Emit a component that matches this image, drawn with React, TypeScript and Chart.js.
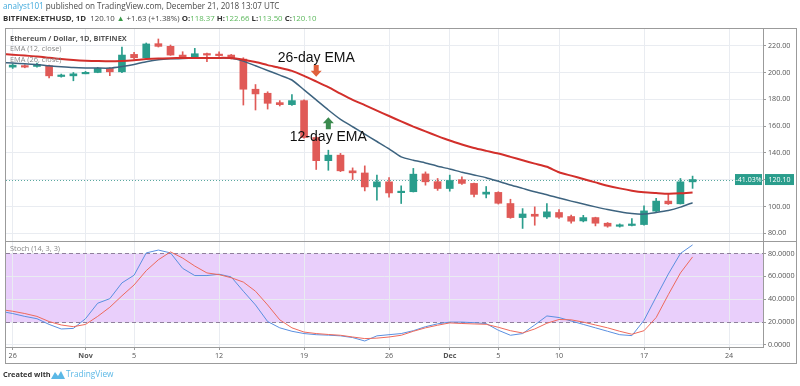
import React, { useEffect, useRef } from "react";
import { Chart, registerables } from "chart.js";
Chart.register(...registerables);

// ---- Candles: one per day, day 0 = Oct 26 2018 ... day 56 = Dec 21 2018
const OPEN = [204, 205, 204.5, 205, 197, 197.5, 199, 200, 203, 200.5, 213.5, 211, 221.5, 219.5, 213, 211, 213.8, 213.6, 213, 210, 187.5, 184.5, 177.5, 176, 179, 151.5, 134.2, 138.3, 126.6, 125, 114.6, 118.4, 110.3, 111, 124.3, 118.5, 113.4, 120, 117.2, 109.2, 110.5, 102.2, 91.7, 94.2, 92.2, 95.5, 92.5, 89.2, 91.7, 87.5, 85.2, 85.8, 86.5, 96.5, 104, 102, 118.37];
const HIGH = [206.5, 205.8, 207, 205.5, 198.8, 200, 200.8, 203.8, 203.5, 219, 215, 222, 225, 220.5, 215.5, 218, 214.5, 215.5, 213.5, 211, 191, 185.6, 179, 183.5, 179.5, 152.5, 142, 139.6, 128.8, 130.3, 123.4, 121.6, 115.4, 128.4, 125.8, 120.9, 123.4, 122.1, 117.5, 114.9, 111, 105.4, 98.4, 99.7, 102.2, 97.7, 93.5, 93.4, 92, 88, 87, 91, 100.4, 106, 109.2, 120.9, 122.66];
const LOW = [203, 203.5, 204, 196, 196.5, 193.8, 199, 199.8, 197.6, 199.8, 210, 210.8, 219, 212.8, 210.5, 210.8, 208, 212, 210, 175.7, 172, 172.7, 175, 175.5, 151, 127.6, 127, 126, 120.1, 111.6, 104.7, 107, 102.2, 110.8, 115.9, 112, 111.4, 116.5, 107.1, 106.4, 101.8, 91.2, 83.6, 86, 91, 91, 87.5, 88.5, 85.5, 84.5, 84.6, 85.5, 86, 96, 101.5, 101.8, 113.5];
const CLOSE = [205.5, 204, 206, 197.5, 198, 199, 200, 203, 200.5, 213, 211, 221.3, 219.5, 213, 211, 214, 213, 212.6, 210.6, 187.5, 184, 177, 176, 179, 151.5, 134.2, 138.3, 126.6, 125.1, 114.6, 118.4, 110.1, 111.4, 124.1, 118.4, 113.4, 119.4, 117.2, 109, 110.7, 102.4, 91.7, 94.4, 92.7, 96, 92, 89, 91.7, 87.5, 85.3, 85.8, 86.5, 96.7, 104, 102, 118.4, 120.1];

// ---- Indicator lines start one day earlier (day -1)
const LINE_FIRST_DAY = -1;
const EMA26 = [213.8, 213.3, 212.6, 212, 211, 210, 209.3, 208.8, 208.5, 208.3, 208.6, 209.2, 210, 210.5, 210.7, 210.8, 210.8, 210.8, 210.9, 210.8, 209.5, 207.8, 205.5, 203.5, 201.2, 197.5, 193.3, 189, 184.2, 179.6, 175.6, 171.5, 167.5, 163.5, 159.6, 156, 152.5, 149.2, 146.3, 143.6, 141.5, 139.5, 137, 134.5, 132, 129.6, 125.5, 123, 120.5, 118, 115.5, 113.5, 111.8, 110.6, 110, 109.5, 109.8, 110.5];
const EMA12 = [207.5, 207, 206.5, 206, 205, 204.3, 203.7, 203.4, 203.3, 203.3, 204.5, 206, 208, 209.5, 210.2, 210.5, 210.7, 210.8, 210.8, 210.6, 208.5, 205, 201.5, 198, 194.4, 187, 179.5, 172, 165, 159.5, 154, 148.5, 143, 137, 134.5, 132.5, 130, 128, 125.5, 123.5, 121.5, 118.8, 116, 113.5, 111, 108.8, 106.3, 104, 101.8, 99.7, 97.7, 96, 94.7, 94.3, 95.5, 97, 99.5, 102.8];
const STOCH_K = [29.5, 27.5, 25, 23, 18, 14, 14.5, 23, 36.5, 40.5, 54.3, 61, 80.5, 83, 80.5, 67, 60.7, 60.7, 61.9, 59.5, 47, 35, 20.5, 15, 12, 10, 9, 8.6, 8, 6.5, 3.5, 8, 9, 10, 12.5, 16, 18.5, 20, 20, 19.5, 18.7, 12.9, 8.5, 10, 17.5, 25.4, 24, 21, 18, 15, 12, 9, 8.2, 21.6, 42, 62, 80, 87.5];
const STOCH_D = [31, 29.5, 27.5, 25, 20.5, 17.5, 16, 18, 25, 33, 43, 52.5, 65, 74.5, 81.4, 76, 69, 63, 61.5, 58.8, 55, 47, 35, 22, 15, 11.3, 10, 9.2, 8.5, 7, 5.6, 6, 7, 8.5, 12, 15, 17.3, 19.3, 18.8, 18.4, 18.1, 15.5, 12.5, 10.5, 14, 19, 22.3, 22, 20, 17.5, 15, 12, 9.4, 12.5, 24, 44, 63, 77];

// ---- Axis ticks
const X_TICK_DAYS = [0, 6, 10, 17, 24, 31, 36, 40, 45, 52, 59];
const X_TICK_LABELS = ["26", "Nov", "5", "12", "19", "26", "Dec", "5", "10", "17", "24"];
const X_MONTH_LABELS = ["Nov", "Dec"];
const PRICE_TICKS = [80, 100, 120, 140, 160, 180, 200, 220];
const STOCH_TICKS = [0, 20, 40, 60, 80];
const STOCH_BAND = [20, 80];
const LAST_CLOSE = 120.1;
const LAST_CHANGE_PCT = "-41.03%";

// ---- Annotations (day index, price)
const ANNOT_TEXTS = [
  { text: "26-day EMA", day: 25, price: 210.8 },
  { text: "12-day EMA", day: 26, price: 151.8 },
];
const ANNOT_ARROWS = [
  { day: 25, from: 205.6, to: 196.8, color: "#e0603c" },
  { day: 26, from: 157.7, to: 166.5, color: "#3a8a4e" },
];

const UP = "#2a9d8c";
const DOWN = "#e05a57";
const GRID = "#e9ecf1";
const FRAME = "#9b9b9b";
const FONT = "'Open Sans', sans-serif";

type Run = [string, string, boolean?];

function drawRuns(ctx: CanvasRenderingContext2D, x: number, y: number, runs: Run[], size: number) {
  let cx = x;
  ctx.textBaseline = "middle";
  ctx.textAlign = "left";
  for (const [t, c, b] of runs) {
    ctx.font = `${b ? "bold " : ""}${size}px ${FONT}`;
    ctx.fillStyle = c;
    ctx.fillText(t, cx, y);
    cx += ctx.measureText(t).width;
  }
}

const overlay = {
  id: "overlay",
  beforeDraw(chart: any) {
    const { ctx, chartArea: a, scales } = chart;
    const y2 = scales.y2;
    const t = y2.getPixelForValue(STOCH_BAND[1]);
    const b = y2.getPixelForValue(STOCH_BAND[0]);
    ctx.save();
    ctx.fillStyle = "#e9cffb";
    ctx.fillRect(a.left, t, a.right - a.left, b - t);
    ctx.restore();
  },
  beforeDatasetsDraw(chart: any) {
    const { ctx, chartArea: a, scales } = chart;
    ctx.save();
    ctx.strokeStyle = "#8f7f9c";
    ctx.lineWidth = 1;
    ctx.setLineDash([4, 3]);
    for (const v of STOCH_BAND) {
      const y = Math.round(scales.y2.getPixelForValue(v)) + 0.5;
      ctx.beginPath();
      ctx.moveTo(a.left, y);
      ctx.lineTo(a.right, y);
      ctx.stroke();
    }
    ctx.strokeStyle = "#5aa9a0";
    ctx.setLineDash([1, 2]);
    const py = Math.round(scales.y.getPixelForValue(LAST_CLOSE)) + 0.5;
    ctx.beginPath();
    ctx.moveTo(a.left, py);
    ctx.lineTo(a.right, py);
    ctx.stroke();
    ctx.restore();
  },
  afterDraw(chart: any) {
    const { ctx, chartArea: a, scales } = chart;
    const xs = scales.x;
    const ys = scales.y;
    ctx.save();
    // frame
    ctx.strokeStyle = FRAME;
    ctx.lineWidth = 1;
    ctx.strokeRect(5.5, 28.5, 791, 335);
    const sep = Math.round(scales.y2.top) + 0.5;
    ctx.beginPath();
    ctx.moveTo(5, sep);
    ctx.lineTo(797, sep);
    ctx.stroke();

    // header
    drawRuns(ctx, 3, 7, [["analyst101", "#3fa9dc"], [" published on TradingView.com, December 21, 2018 13:07 UTC", "#4a4a4a"]], 8.1);
    drawRuns(ctx, 3, 18.5, [
      ["BITFINEX:ETHUSD, 1D", "#333", true],
      ["  120.10 ", "#444"],
      ["▲", "#3a9a48"],
      [" +1.63 (+1.38%) ", "#444"],
      ["O:", "#333", true], ["118.37", "#5cb85c"],
      [" H:", "#333", true], ["122.66", "#5cb85c"],
      [" L:", "#333", true], ["113.50", "#5cb85c"],
      [" C:", "#333", true], ["120.10", "#5cb85c"],
    ], 7.85);

    // pane legends
    drawRuns(ctx, 10, 38.5, [["Ethereum / Dollar, 1D, BITFINEX", "#555", true]], 7.4);
    drawRuns(ctx, 10, 49, [["EMA (12, close)", "#888"]], 7.4);
    drawRuns(ctx, 10, 59.5, [["EMA (26, close)", "#888"]], 7.4);
    drawRuns(ctx, 10, 248.5, [["Stoch (14, 3, 3)", "#888"]], 7.4);

    // annotations
    ctx.font = `14px 'Liberation Sans', Arial, sans-serif`;
    ctx.fillStyle = "#111";
    ctx.textAlign = "center";
    ctx.textBaseline = "middle";
    for (const t of ANNOT_TEXTS) {
      ctx.fillText(t.text, xs.getPixelForValue(t.day), ys.getPixelForValue(t.price));
    }
    for (const ar of ANNOT_ARROWS) {
      const x = xs.getPixelForValue(ar.day);
      const y0 = ys.getPixelForValue(ar.from);
      const y1 = ys.getPixelForValue(ar.to);
      const dir = y1 > y0 ? 1 : -1;
      const head = 6;
      ctx.fillStyle = ar.color;
      ctx.beginPath();
      ctx.moveTo(x - 2.5, y0);
      ctx.lineTo(x + 2.5, y0);
      ctx.lineTo(x + 2.5, y1 - dir * head);
      ctx.lineTo(x + 5.5, y1 - dir * head);
      ctx.lineTo(x, y1);
      ctx.lineTo(x - 5.5, y1 - dir * head);
      ctx.lineTo(x - 2.5, y1 - dir * head);
      ctx.closePath();
      ctx.fill();
    }

    // last price labels
    const py = ys.getPixelForValue(LAST_CLOSE);
    ctx.fillStyle = UP;
    ctx.fillRect(a.right - 28, py - 5.5, 27, 11);
    ctx.fillRect(a.right + 2, py - 5.5, 29, 11);
    ctx.fillStyle = "#fff";
    ctx.font = `7px ${FONT}`;
    ctx.textAlign = "center";
    ctx.fillText(LAST_CHANGE_PCT, a.right - 14.5, py + 0.5);
    ctx.fillText(LAST_CLOSE.toFixed(2), a.right + 16.5, py + 0.5);

    // footer
    drawRuns(ctx, 3, 375, [["Created with", "#333", true]], 7.4);
    ctx.fillStyle = "#5bb8e6";
    ctx.beginPath();
    ctx.moveTo(51, 379);
    ctx.lineTo(55, 372);
    ctx.lineTo(58, 376);
    ctx.lineTo(61, 371);
    ctx.lineTo(65, 379);
    ctx.closePath();
    ctx.fill();
    drawRuns(ctx, 66, 375, [["TradingView", "#5bb8e6"]], 8.3);
    ctx.restore();
  },
};

export default function App() {
  const ref = useRef<HTMLCanvasElement | null>(null);
  useEffect(() => {
    if (!ref.current) return;
    const colors = OPEN.map((o, i) => (CLOSE[i] >= o ? UP : DOWN));
    const line = (arr: number[]) => arr.map((v, i) => ({ x: LINE_FIRST_DAY + i, y: v }));
    const tickFont = { family: FONT, size: 7.2 };
    const chart = new Chart(ref.current, {
      type: "bar",
      data: {
        datasets: [
          { type: "line", label: "EMA 26", data: line(EMA26), yAxisID: "y", borderColor: "#d22f2b", borderWidth: 2, pointRadius: 0, tension: 0.2, order: 0 } as any,
          { type: "line", label: "EMA 12", data: line(EMA12), yAxisID: "y", borderColor: "#3d637f", borderWidth: 1.5, pointRadius: 0, tension: 0.2, order: 1 } as any,
          { type: "line", label: "%K", data: line(STOCH_K), yAxisID: "y2", borderColor: "#5a8fe0", borderWidth: 1, pointRadius: 0, order: 1 } as any,
          { type: "line", label: "%D", data: line(STOCH_D), yAxisID: "y2", borderColor: "#ee6a5c", borderWidth: 1, pointRadius: 0, order: 0 } as any,
          { type: "bar", label: "wick", data: HIGH.map((h, i) => ({ x: i, y: [LOW[i], h] })), yAxisID: "y", backgroundColor: colors, barThickness: 1, grouped: false, order: 3 } as any,
          { type: "bar", label: "body", data: OPEN.map((o, i) => ({ x: i, y: [o, CLOSE[i]] })), yAxisID: "y", backgroundColor: colors, barThickness: 7, minBarLength: 1.5, grouped: false, order: 2 } as any,
        ],
      },
      options: {
        animation: false,
        responsive: false,
        events: [],
        layout: { padding: { left: 6, top: 28, right: 3, bottom: 23 } },
        plugins: { legend: { display: false }, tooltip: { enabled: false } },
        scales: {
          x: {
            type: "linear",
            min: -0.55,
            max: 61.8,
            offset: false,
            afterBuildTicks: (s: any) => { s.ticks = X_TICK_DAYS.map((v) => ({ value: v })); },
            afterFit: (s: any) => { s.height = 16; },
            grid: { color: GRID, tickLength: 3, tickColor: FRAME, offset: false },
            border: { color: FRAME },
            ticks: {
              autoSkip: false,
              maxRotation: 0,
              padding: 2,
              color: "#555",
              font: (c: any) => ({ family: FONT, size: 7.2, weight: X_MONTH_LABELS.includes(X_TICK_LABELS[c.index]) ? "bold" : "normal" }),
              callback: (_v: any, i: number) => X_TICK_LABELS[i],
            },
          },
          y: {
            type: "linear",
            position: "right",
            stack: "panes",
            stackWeight: 212.7,
            min: 74.3,
            max: 233.2,
            afterBuildTicks: (s: any) => { s.ticks = PRICE_TICKS.map((v) => ({ value: v })); },
            afterFit: (s: any) => { s.width = 34; },
            grid: { color: GRID, tickLength: 3, tickColor: FRAME },
            border: { color: FRAME },
            ticks: { padding: 2, color: "#555", font: tickFont, callback: (v: any) => Number(v).toFixed(2) },
          },
          y2: {
            type: "linear",
            position: "right",
            stack: "panes",
            stackWeight: 106,
            min: -1.75,
            max: 91,
            afterBuildTicks: (s: any) => { s.ticks = STOCH_TICKS.map((v) => ({ value: v })); },
            afterFit: (s: any) => { s.width = 34; },
            grid: { color: GRID, tickLength: 3, tickColor: FRAME },
            border: { color: FRAME },
            ticks: { padding: 2, color: "#555", font: tickFont, callback: (v: any) => Number(v).toFixed(4) },
          },
        },
      } as any,
      plugins: [overlay],
    });
    return () => chart.destroy();
  }, []);
  return (
    <div style={{ position: "absolute", left: 0, top: 0, width: 800, height: 386, background: "#fff" }}>
      <canvas ref={ref} width={800} height={386} style={{ display: "block" }} />
    </div>
  );
}
